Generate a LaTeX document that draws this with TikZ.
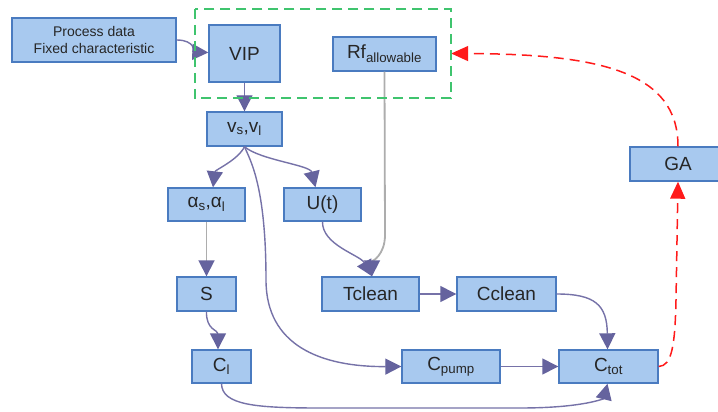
\documentclass[tikz,border=0pt]{standalone}
\usepackage{fontspec}
\setmainfont{Liberation Sans}
\usetikzlibrary{arrows.meta,calc}
\definecolor{boxfill}{HTML}{A8C9EF}
\definecolor{boxdraw}{HTML}{4A7BC0}
\definecolor{connc}{HTML}{7672A8}
\definecolor{tipc}{HTML}{65639E}
\definecolor{greyc}{HTML}{ADADAD}
\definecolor{grpc}{HTML}{3FC46E}
\definecolor{redc}{HTML}{FF1A1A}
\definecolor{txtc}{HTML}{262626}
\begin{document}
\begin{tikzpicture}[x=1pt,y=-1pt,
  box/.style={draw=boxdraw, fill=boxfill, line width=1.4pt, inner sep=0pt,
    text=txtc, font=\fontsize{19}{22}\selectfont, minimum height=34pt},
  conn/.style={draw=connc, line width=1.4pt,
    -{Triangle[length=16pt,width=16pt,color=tipc]}},
  greyconn/.style={draw=greyc, line width=1.8pt,
    -{Triangle[length=16pt,width=16pt,color=tipc]}},
  redconn/.style={draw=redc, line width=1.5pt, dash pattern=on 10pt off 6pt,
    -{Triangle[length=17pt,width=15pt,color=redc]}},
  grpline/.style={draw=grpc, line width=1.8pt, dash pattern=on 10pt off 6pt}
]
\useasboundingbox (0,0) rectangle (718,412);
\clip (0,0) rectangle (718,412);
\fill[white] (0,0) rectangle (718,412);

% group box (outline drawn last)
\node[inner sep=0pt, minimum width=256pt, minimum height=89pt] (grp) at (323,53.5) {};

% nodes
\node[box, minimum width=164pt, minimum height=44pt, align=center,
  font=\fontsize{14}{17}\selectfont] (proc) at (94,40)
  {Process data\\Fixed characteristic};
\node[box, minimum width=71pt, minimum height=57pt] (vip) at (244.5,53.5) {VIP};
\node[box, minimum width=103pt] (rf) at (384.5,54) {Rf\textsubscript{allowable}};
\node[box, minimum width=75pt] (vs) at (244.5,129) {v\textsubscript{s},v\textsubscript{l}};
\node[box, minimum width=77pt, minimum height=33pt] (alpha) at (206.5,204.5) {α\textsubscript{s},α\textsubscript{l}};
\node[box, minimum width=77pt, minimum height=33pt] (ut) at (322.5,204.5) {U(t)};
\node[box, minimum width=59pt] (s) at (206.5,294) {S};
\node[box, minimum width=97pt] (tclean) at (370.5,294) {Tclean};
\node[box, minimum width=99pt] (cclean) at (506.5,294) {Cclean};
\node[box, minimum width=59pt, minimum height=33pt] (cl) at (221.5,366.5) {C\textsubscript{l}};
\node[box, minimum width=98pt, minimum height=33pt] (cpump) at (451,366.5) {C\textsubscript{pump}};
\node[box, minimum width=99pt, minimum height=33pt] (ctot) at (608.5,366.5) {C\textsubscript{tot}};
\node[box, minimum width=96pt] (ga) at (678,164) {GA};

% connectors
\draw[conn] (proc.east) .. controls (195,40) and (195,52) .. ($(vip.west)+(0,-1)$);
\draw[conn] (vip.south) -- (vs.north);
\draw[greyconn] (rf.south) -- (385,235) .. controls (385,255) and (372,262) .. ($(tclean.north)+(1.5,0)$);
\draw[conn] (ut.south) .. controls (322,245) and (360,255) .. ($(tclean.north)+(1.5,0)$);
\draw[conn] (vs.south) .. controls (238,160) and (215,170) .. ($(alpha.north)+(6.5,0)$);
\draw[conn] (vs.south) .. controls (260,160) and (310,165) .. ($(ut.north)+(-7,0)$);
\draw[conn] (vs.south) .. controls (250,160) and (266,185) .. (266,280)
  .. controls (266,345) and (320,367) .. (cpump.west);
\draw[greyconn] (alpha.south) -- (s.north);
\draw[conn] (s.south) .. controls (206,330) and (218,330) .. ($(cl.north)+(-3.5,0)$);
\draw[conn] (tclean.east) -- (cclean.west);
\draw[conn] (cclean.east) .. controls (595,294) and (607,305) .. ($(ctot.north)+(-1,0)$);
\draw[conn] (cpump.east) -- (ctot.west);
\draw[conn] (cl.south) .. controls (222,405) and (255,408) .. (320,408)
  -- (520,408) .. controls (585,408) and (604,398) .. ($(ctot.south)+(-1,0)$);
\draw[redconn] (ctot.east) .. controls (672,366) and (675,345) .. (676,300) -- (ga.south);
\draw[redconn] (ga.north) .. controls (678,72) and (600,54) .. (grp.east);

% group outline over the VIP connector, as in the reference
\draw[grpline] (grp.north west) rectangle (grp.south east);
\end{tikzpicture}
\end{document}
